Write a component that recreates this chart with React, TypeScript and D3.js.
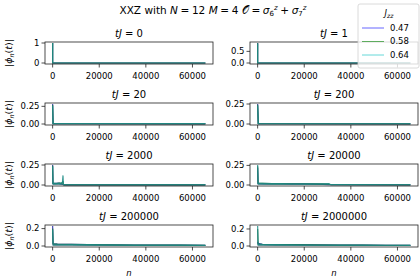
import React from "react";
import * as d3 from "d3";

// Jzz values shown in the legend, in drawing order
const jzz = ["0.47", "0.58", "0.64"];
const jzzColors = ["#0000ff", "#008000", "#00bfbf"];
// plotted strokes look darker where many points overlap
const lineColors = ["#2323a8", "#1d6f3a", "#1f8c86"];

// panel times tJ, read row by row
const times = ["0", "1", "20", "200", "2000", "20000", "200000", "2000000"];

const xTicks = [0, 20000, 40000, 60000];
const nMax = 65535;

const yTicks = [
  [0, 1],
  [0, 0.5],
  [0, 0.25],
  [0, 0.25],
  [0, 0.25],
  [0, 0.25],
  [0, 0.2],
  [0, 0.2],
];
const yTickLabels = [
  ["0", "1"],
  ["0.0", "0.5"],
  ["0.00", "0.25"],
  ["0.00", "0.25"],
  ["0.00", "0.25"],
  ["0.00", "0.25"],
  ["0.0", "0.2"],
  ["0.0", "0.2"],
];

// |phi_n(t)| (envelope), n positions per panel
const nT0 = [0, 1, 65535];
const phiT0 = [
  [1, 0, 0],
  [1, 0, 0],
  [1, 0, 0],
];

const nT1 = [0, 1, 65535];
const phiT1 = [
  [0.86, 0.001, 0],
  [0.85, 0.001, 0],
  [0.84, 0.001, 0],
];

const nT20 = [0, 200, 1000, 65535];
const phiT20 = [
  [0.283, 0.005, 0.004, 0.003],
  [0.27, 0.005, 0.004, 0.003],
  [0.26, 0.006, 0.005, 0.004],
];

const nT200 = [0, 300, 1000, 65535];
const phiT200 = [
  [0.25, 0.004, 0.003, 0.002],
  [0.24, 0.004, 0.003, 0.002],
  [0.23, 0.005, 0.003, 0.003],
];

const nT2000 = [0, 150, 600, 1200, 1800, 2400, 3000, 3600, 4200, 4450, 4600, 5000, 65535];
const phiT2000 = [
  [0.25, 0.02, 0.018, 0.022, 0.02, 0.024, 0.018, 0.015, 0.01, 0.006, 0.003, 0.002, 0.002],
  [0.24, 0.02, 0.02, 0.018, 0.022, 0.02, 0.026, 0.02, 0.03, 0.05, 0.004, 0.002, 0.002],
  [0.23, 0.018, 0.02, 0.02, 0.018, 0.022, 0.02, 0.024, 0.03, 0.12, 0.01, 0.003, 0.002],
];

const nT20000 = [0, 200, 2000, 6000, 10000, 15000, 20000, 25000, 28000, 30500, 31500, 65535];
const phiT20000 = [
  [0.22, 0.02, 0.018, 0.016, 0.016, 0.015, 0.015, 0.012, 0.008, 0.004, 0.003, 0.002],
  [0.24, 0.022, 0.02, 0.018, 0.017, 0.016, 0.016, 0.015, 0.014, 0.01, 0.003, 0.002],
  [0.255, 0.02, 0.02, 0.018, 0.017, 0.016, 0.015, 0.015, 0.015, 0.018, 0.004, 0.003],
];

const nT200000 = [0, 200, 2000, 8000, 15000, 25000, 35000, 45000, 55000, 65535];
const phiT200000 = [
  [0.23, 0.025, 0.022, 0.018, 0.015, 0.013, 0.011, 0.01, 0.009, 0.008],
  [0.2, 0.024, 0.021, 0.018, 0.015, 0.013, 0.011, 0.01, 0.009, 0.008],
  [0.19, 0.023, 0.02, 0.017, 0.015, 0.012, 0.011, 0.01, 0.009, 0.008],
];

const nT2000000 = [0, 200, 2000, 8000, 15000, 25000, 35000, 45000, 55000, 65535];
const phiT2000000 = [
  [0.05, 0.03, 0.02, 0.017, 0.015, 0.013, 0.011, 0.01, 0.009, 0.008],
  [0.2, 0.022, 0.02, 0.017, 0.015, 0.013, 0.011, 0.01, 0.009, 0.008],
  [0.235, 0.022, 0.02, 0.017, 0.014, 0.012, 0.011, 0.01, 0.009, 0.008],
];

const panelN = [nT0, nT1, nT20, nT200, nT2000, nT20000, nT200000, nT2000000];
const panelPhi = [phiT0, phiT1, phiT20, phiT200, phiT2000, phiT20000, phiT200000, phiT2000000];

const W = 420;
const H = 280;
const colX = [
  [45, 213],
  [250, 418],
];
const rowTop = [42, 103, 164, 225];
const axH = 22;
const font = "DejaVu Sans, sans-serif";
const ink = "#222";
const sp = "\u2005";

function Panel({ idx }: { idx: number }) {
  const col = idx % 2;
  const row = Math.floor(idx / 2);
  const [x0, x1] = colX[col];
  const top = rowTop[row];
  const bottom = top + axH;
  const ns = panelN[idx];
  const series = panelPhi[idx];
  const vmax = d3.max(series.flat()) as number;

  const x = d3
    .scaleLinear()
    .domain([-0.05 * nMax, 1.05 * nMax])
    .range([x0, x1]);
  const y = d3
    .scaleLinear()
    .domain([-0.05 * vmax, 1.05 * vmax])
    .range([bottom, top]);

  const line = d3
    .line<number>()
    .x((_, i) => x(ns[i]))
    .y((d) => y(d));
  const area = d3
    .area<number>()
    .x((_, i) => x(ns[i]))
    .y0(y(0))
    .y1((d) => y(d));

  const clipId = `clip${idx}`;

  return (
    <g>
      <defs>
        <clipPath id={clipId}>
          <rect x={x0} y={top} width={x1 - x0} height={axH} />
        </clipPath>
      </defs>
      <g clipPath={`url(#${clipId})`}>
        {series.map((vals, s) => (
          <g key={s}>
            <path d={area(vals) ?? ""} fill={lineColors[s]} fillOpacity={0.35} />
            <path
              d={line(vals) ?? ""}
              fill="none"
              stroke={lineColors[s]}
              strokeOpacity={0.85}
              strokeWidth={1.2}
            />
          </g>
        ))}
      </g>
      <rect
        x={x0}
        y={top}
        width={x1 - x0}
        height={axH}
        fill="none"
        stroke={ink}
        strokeWidth={0.8}
      />
      {xTicks.map((t) => (
        <g key={t}>
          <line x1={x(t)} x2={x(t)} y1={bottom} y2={bottom + 3.5} stroke={ink} strokeWidth={0.8} />
          <text
            x={x(t)}
            y={bottom + 14.5}
            textAnchor="middle"
            fontSize={8.5}
            fontFamily={font}
            fill="#000"
          >
            {t}
          </text>
        </g>
      ))}
      {yTicks[idx].map((t, i) => (
        <g key={i}>
          <line x1={x0 - 3.5} x2={x0} y1={y(t)} y2={y(t)} stroke={ink} strokeWidth={0.8} />
          <text
            x={x0 - 5.5}
            y={y(t)}
            dy="0.34em"
            textAnchor="end"
            fontSize={8.5}
            fontFamily={font}
            fill="#000"
          >
            {yTickLabels[idx][i]}
          </text>
        </g>
      ))}
      <text
        x={(x0 + x1) / 2}
        y={top - 5}
        textAnchor="middle"
        fontSize={10}
        fontFamily={font}
        fill="#000"
      >
        <tspan fontStyle="italic">tJ</tspan>
        {" = " + times[idx]}
      </text>
      {col === 0 && (
        <text
          transform={`translate(12,${top + axH / 2}) rotate(-90)`}
          textAnchor="middle"
          fontSize={9.5}
          fontFamily={font}
          fill="#000"
        >
          |<tspan fontStyle="italic">ϕ</tspan>
          <tspan fontStyle="italic" fontSize={6.5} dy={2}>
            n
          </tspan>
          <tspan dy={-2}>(</tspan>
          <tspan fontStyle="italic">t</tspan>)|
        </text>
      )}
      {row === 3 && (
        <text
          x={(x0 + x1) / 2}
          y={276}
          textAnchor="middle"
          fontSize={8.5}
          fontFamily={font}
          fontStyle="italic"
          fill="#000"
        >
          n
        </text>
      )}
    </g>
  );
}

function Legend() {
  const lx = 358;
  const ly = 4;
  const rowsY = [28, 41.5, 55];
  return (
    <g>
      <rect
        x={lx}
        y={ly}
        width={61}
        height={64}
        rx={2}
        fill="#fff"
        fillOpacity={0.8}
        stroke="#d0d0d0"
        strokeWidth={0.8}
      />
      <text x={389} y={15.5} textAnchor="middle" fontSize={8.5} fontFamily={font} fill="#000">
        <tspan fontStyle="italic">J</tspan>
        <tspan fontStyle="italic" fontSize={6} dy={2}>
          zz
        </tspan>
      </text>
      {jzz.map((j, i) => (
        <g key={j}>
          <line
            x1={362}
            x2={384}
            y1={rowsY[i]}
            y2={rowsY[i]}
            stroke={jzzColors[i]}
            strokeOpacity={0.6}
            strokeWidth={1}
          />
          <text x={390} y={rowsY[i] + 2.5} fontSize={8.5} fontFamily={font} fill="#000">
            {j}
          </text>
        </g>
      ))}
    </g>
  );
}

export default function App() {
  return (
    <svg
      width={W}
      height={H}
      style={{ position: "absolute", left: 0, top: 0, background: "#fff" }}
    >
      <rect width={W} height={H} fill="#fff" />
      <text x={213} y={13.5} textAnchor="middle" fontSize={10.5} fontFamily={font} fill="#000">
        {"XXZ with "}
        <tspan fontStyle="italic">N</tspan>
        {`${sp}=${sp}12 `}
        <tspan fontStyle="italic">M</tspan>
        {`${sp}=${sp}4 `}
        <tspan>𝒪</tspan>
        {`${sp}=${sp}`}
        <tspan fontStyle="italic">σ</tspan>
        <tspan fontSize={7} dy={2.5}>
          6
        </tspan>
        <tspan fontSize={7} fontStyle="italic" dy={-6}>
          z
        </tspan>
        <tspan dy={3.5}>{`${sp}+${sp}`}</tspan>
        <tspan fontStyle="italic">σ</tspan>
        <tspan fontSize={7} dy={2.5}>
          7
        </tspan>
        <tspan fontSize={7} fontStyle="italic" dy={-6}>
          z
        </tspan>
      </text>
      {times.map((_, i) => (
        <Panel key={i} idx={i} />
      ))}
      <Legend />
    </svg>
  );
}
